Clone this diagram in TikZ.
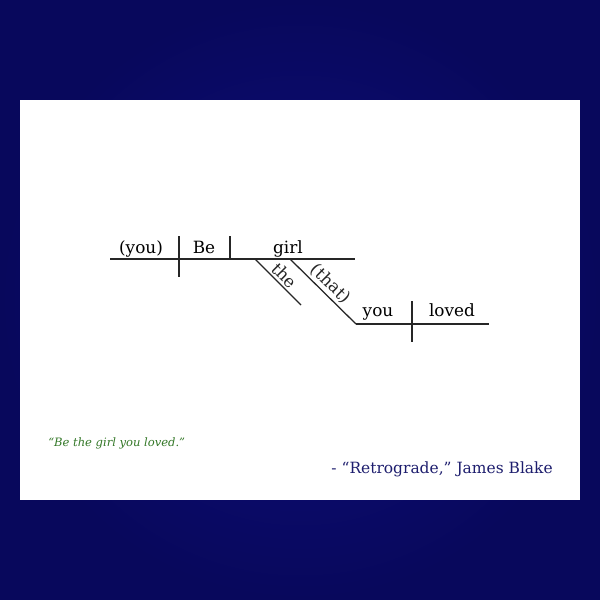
\documentclass[tikz,border=0pt]{standalone}
\usepackage{fontspec}
\setmainfont{DejaVu Serif}
\definecolor{bgin}{RGB}{14,14,124}
\definecolor{bgout}{RGB}{8,8,92}
\definecolor{quotegreen}{RGB}{52,120,40}
\definecolor{namenavy}{RGB}{30,30,110}

\begin{document}
\begin{tikzpicture}[x=0.025cm,y=-0.025cm]

\tikzset{word/.style = {anchor=base, inner sep=0pt, font=\fontsize{12}{14}\selectfont}}
\tikzset{tilt/.style = {midway, sloped, above, inner sep=1.5pt, font=\fontsize{12}{14}\selectfont}}
\tikzset{rule/.style = {line width=0.9pt, black!85}}
%background
\shade[inner color=bgin, outer color=bgout] (0,0) rectangle (600,600);
\fill[white] (20,100) rectangle (580,500);
%points
\coordinate (main0) at (110,259);
\coordinate (main1) at (355,259);
\coordinate (sv0) at (179,236);
\coordinate (sv1) at (179,277);
\coordinate (vo0) at (230,236);
\coordinate (vo1) at (230,259);
\coordinate (the0) at (255,259);
\coordinate (the1) at (301,305);
\coordinate (rel0) at (290,259);
\coordinate (rel1) at (356,324);
\coordinate (low1) at (489,324);
\coordinate (lsv0) at (412,301);
\coordinate (lsv1) at (412,342);
%words
\node[word] (subj) at (141,253) {(you)};
\node[word] (verb) at (204,253) {Be};
\node[word] (obj) at (288,253) {girl};
\node[word] (rsubj) at (378,316) {you};
\node[word] (rverb) at (452,316) {loved};
%lines
\draw[rule] (main0) -- (main1);
\draw[rule] (sv0) -- (sv1);
\draw[rule] (vo0) -- (vo1);
\draw[rule] (the0) -- (the1) node[tilt] (art) {the};
\draw[rule] (rel0) -- (rel1) node[tilt] (that) {(that)};
\draw[rule] (rel1) -- (low1);
\draw[rule] (lsv0) -- (lsv1);
%quote
\node[anchor=base west, inner sep=0pt, text=quotegreen, font=\fontsize{8.2}{10}\selectfont\itshape] (quote) at (48,446) {“Be the girl you loved.”};
\node[anchor=base east, inner sep=0pt, text=namenavy, font=\fontsize{11}{13}\selectfont] (source) at (553,473) {- “Retrograde,” James Blake};

\end{tikzpicture}
\end{document}
